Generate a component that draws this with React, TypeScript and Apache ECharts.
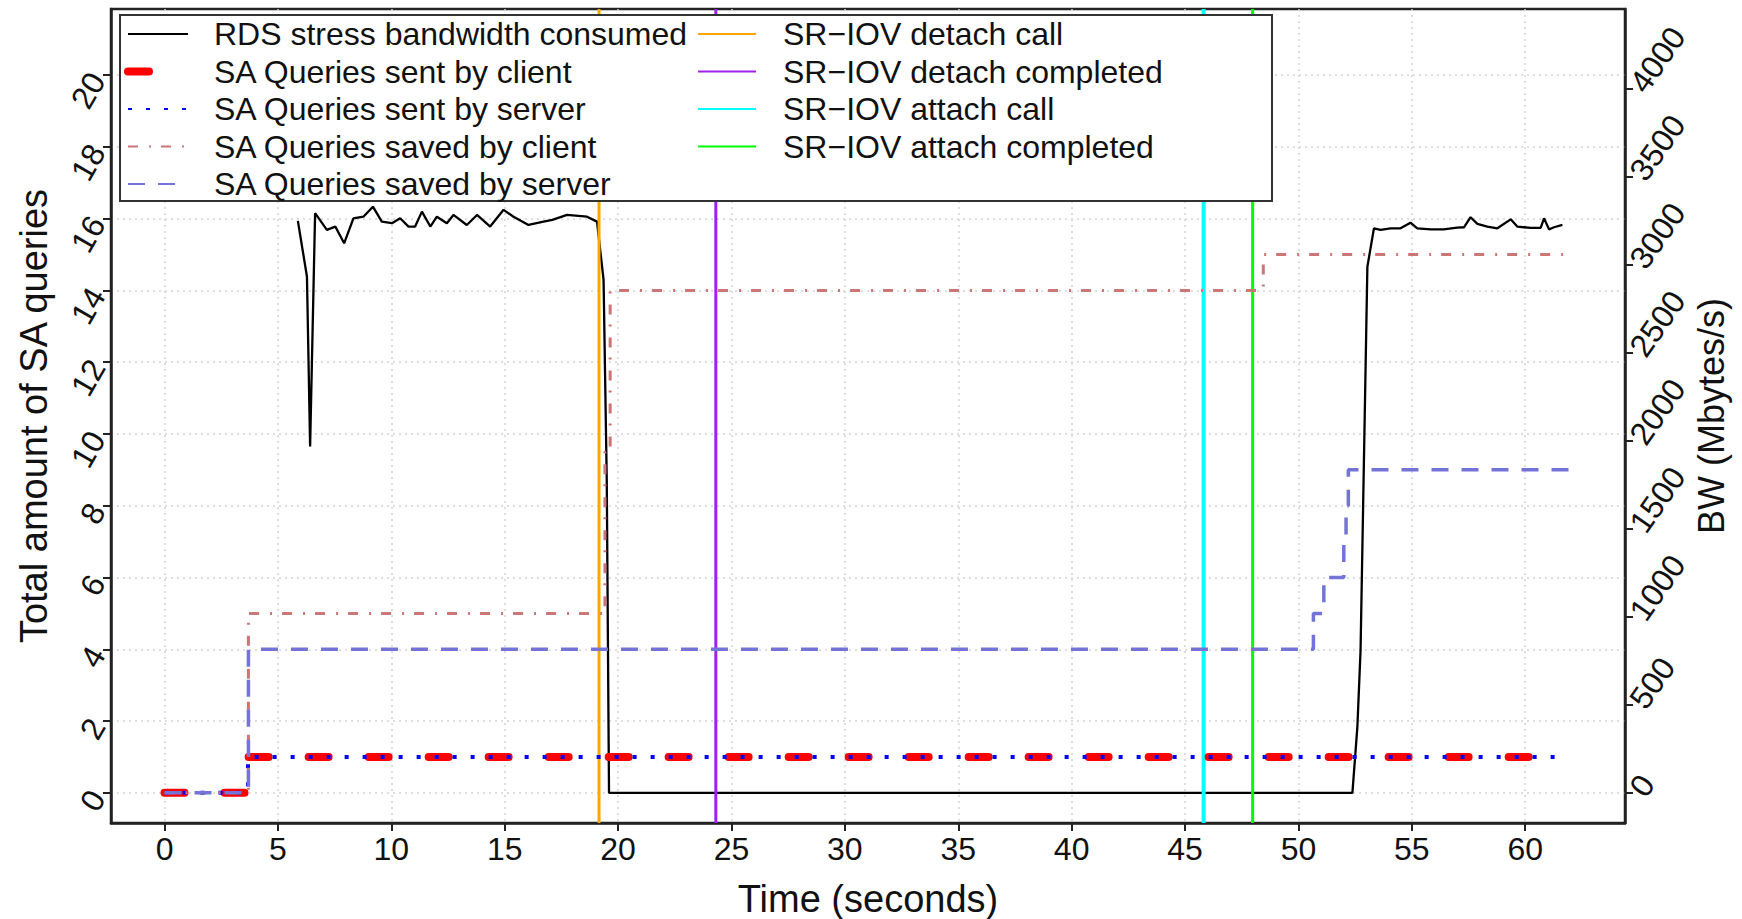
import React, { useEffect, useRef } from "react";
import * as echarts from "echarts";

// ---------- data ----------
const xTicks = [0, 5, 10, 15, 20, 25, 30, 35, 40, 45, 50, 55, 60];
const leftTicks = [0, 2, 4, 6, 8, 10, 12, 14, 16, 18, 20];
const rightTicks = [0, 500, 1000, 1500, 2000, 2500, 3000, 3500, 4000];

// RDS stress bandwidth (Mbytes/s), right axis
const bwTime = [
  5.88, 6.28, 6.42, 6.64, 7.16, 7.53, 7.92, 8.33, 8.77, 9.19, 9.58, 10.03, 10.39, 10.76, 11.05,
  11.35, 11.72, 12.01, 12.45, 12.74, 13.33, 13.78, 14.36, 14.95, 15.39, 16.05, 16.71, 17.1, 17.75,
  18.63, 19.07, 19.36, 19.5, 19.6, 52.38, 52.6, 52.74, 53.04, 53.33, 53.62, 54.06, 54.5, 54.94,
  55.24, 55.83, 56.4, 57.0, 57.3, 57.59, 57.89, 58.33, 58.77, 59.36, 59.65, 60.24, 60.68, 60.83,
  61.05, 61.27, 61.64,
];
const bwValue = [
  3250, 2934, 1968, 3294, 3199, 3218, 3123, 3265, 3274, 3331, 3246, 3237, 3265, 3218, 3218,
  3303, 3218, 3274, 3237, 3284, 3227, 3284, 3218, 3313, 3274, 3227, 3246, 3256, 3284,
  3274, 3246, 2915, 1780, 0, 0, 377, 812, 2990, 3208, 3199, 3208, 3208, 3240,
  3208, 3202, 3202, 3212, 3214, 3271, 3233, 3218, 3208, 3259, 3218, 3210, 3210, 3265,
  3202, 3214, 3227,
];

// SA queries (step changes), left axis
const sentTime = [0, 3.68, 61.6];
const sentClientValue = [0, 1, 1];
const sentServerValue = [0, 1, 1];
const savedClientTime = [0, 3.7, 19.42, 19.65, 48.45, 62.1];
const savedClientValue = [0, 5, 9.5, 14, 15, 15];
const savedServerTime = [0, 3.7, 50.66, 51.12, 52.0, 52.1, 52.2, 62.1];
const savedServerValue = [0, 4, 5, 6, 7, 8, 9, 9];

// SR-IOV events (seconds)
const eventNames = [
  "SR\u2212IOV detach call",
  "SR\u2212IOV detach completed",
  "SR\u2212IOV attach call",
  "SR\u2212IOV attach completed",
];
const eventTimes = [19.16, 24.31, 45.82, 47.98];

const LEFT_MIN = -0.84;
const LEFT_MAX = 21.84;
const RIGHT_MIN = -171.3;
const RIGHT_MAX = 4454.3;
const X_MIN = -2.36;
const X_MAX = 64.4;

const FONT = "Liberation Sans, Arial, Helvetica, sans-serif";

const zip = (a: number[], b: number[]) => a.map((v, i) => [v, b[i]]);

export default function App() {
  const ref = useRef<HTMLDivElement>(null);

  useEffect(() => {
    if (!ref.current) return;
    const chart = echarts.init(ref.current, undefined, { renderer: "svg" });

    const eventColors = ["#ffa500", "#a020f0", "#00ffff", "#00ff00"];
    const eventWidths = [3, 3, 4, 3];

    const seriesNames1 = [
      "RDS stress bandwidth consumed",
      "SA Queries sent by client",
      "SA Queries sent by server",
      "SA Queries saved by client",
      "SA Queries saved by server",
    ];

    const legendCommon = {
      orient: "vertical",
      top: 18,
      padding: 0,
      itemHeight: 14,
      itemGap: 5.5,
      selectedMode: false,
      itemStyle: { opacity: 0 },
      z: 5,
    };

    const option: any = {
      animation: false,
      backgroundColor: "#fff",
      textStyle: { fontFamily: FONT },
      grid: {
        left: 111,
        right: 117,
        top: 9,
        bottom: 96,
        show: true,
        borderColor: "#222",
        borderWidth: 2.5,
        backgroundColor: "transparent",
        outerBoundsMode: "none",
      },
      graphic: [
        {
          type: "rect",
          z: 3,
          shape: { x: 120, y: 15, width: 1152, height: 186 },
          style: { fill: "#fff", stroke: "#333", lineWidth: 2 },
        },
      ],
      legend: [
        {
          ...legendCommon,
          left: 124,
          itemWidth: 60,
          data: seriesNames1.map((n, i) =>
            i === 1
              ? { name: n, lineStyle: { width: 8, type: [21, 40], cap: "round", color: "#ff0000" } }
              : { name: n }
          ),
          textStyle: { fontSize: 32, lineHeight: 32, color: "#111", fontFamily: FONT, padding: [0, 0, 0, 21] },
        },
        {
          ...legendCommon,
          left: 697,
          itemWidth: 58,
          data: eventNames,
          textStyle: { fontSize: 32, lineHeight: 32, color: "#111", fontFamily: FONT, padding: [0, 0, 0, 22] },
        },
      ],
      xAxis: {
        type: "value",
        min: X_MIN,
        max: X_MAX,
        name: "Time (seconds)",
        nameLocation: "middle",
        nameGap: 57,
        nameMoveOverlap: false,
        nameTextStyle: { fontSize: 38, color: "#111", fontFamily: FONT },
        axisLine: { show: true, onZero: false, lineStyle: { color: "#222", width: 2.5 } },
        axisTick: { show: true, customValues: xTicks, length: 8, lineStyle: { color: "#222", width: 2 } },
        axisLabel: { customValues: xTicks, margin: 10, fontSize: 32, color: "#111", fontFamily: FONT },
        splitLine: { show: true, lineStyle: { color: "#d3d3d3", type: [2, 4], width: 1.5 } },
      },
      yAxis: [
        {
          type: "value",
          position: "left",
          min: LEFT_MIN,
          max: LEFT_MAX,
          name: "Total amount of SA queries",
          nameLocation: "middle",
          nameGap: 58,
          nameRotate: 90,
          nameMoveOverlap: false,
          nameTextStyle: { fontSize: 38, color: "#111", fontFamily: FONT },
          axisLine: { show: true, onZero: false, lineStyle: { color: "#222", width: 2.5 } },
          axisTick: { show: true, customValues: leftTicks, length: 8, lineStyle: { color: "#222", width: 2 } },
          axisLabel: {
            customValues: leftTicks,
            rotate: 60,
            align: "right",
            verticalAlign: "middle",
            margin: 14,
            fontSize: 32,
            color: "#111",
            fontFamily: FONT,
            formatter: (v: number) => String(v),
          },
          splitLine: { show: true, lineStyle: { color: "#d3d3d3", type: [2, 4], width: 1.5 } },
        },
        {
          type: "value",
          position: "right",
          min: RIGHT_MIN,
          max: RIGHT_MAX,
          name: "BW (Mbytes/s)",
          nameLocation: "middle",
          nameGap: 68,
          nameRotate: 90,
          nameMoveOverlap: false,
          nameTextStyle: { fontSize: 36, color: "#111", fontFamily: FONT },
          axisLine: { show: true, onZero: false, lineStyle: { color: "#222", width: 2.5 } },
          axisTick: { show: true, customValues: rightTicks, length: 8, lineStyle: { color: "#222", width: 2 } },
          axisLabel: {
            customValues: rightTicks,
            rotate: 55,
            align: "left",
            verticalAlign: "middle",
            margin: 12,
            fontSize: 32,
            color: "#111",
            fontFamily: FONT,
            formatter: (v: number) => String(v),
          },
          splitLine: { show: false },
        },
      ],
      series: [
        {
          name: seriesNames1[0],
          type: "line",
          yAxisIndex: 1,
          data: zip(bwTime, bwValue),
          symbol: "none",
          lineStyle: { color: "#000", width: 2.3 },
          itemStyle: { color: "#000" },
          z: 2,
        },
        {
          name: seriesNames1[1],
          type: "line",
          yAxisIndex: 0,
          step: "end",
          data: zip(sentTime, sentClientValue),
          symbol: "none",
          lineStyle: { color: "#ff0000", width: 8, type: [20, 40], cap: "round" },
          itemStyle: { color: "#ff0000" },
          z: 3,
        },
        {
          name: seriesNames1[2],
          type: "line",
          yAxisIndex: 0,
          step: "end",
          data: zip(sentTime, sentServerValue),
          symbol: "none",
          lineStyle: { color: "#0000ff", width: 4, type: [4, 14] },
          itemStyle: { color: "#0000ff" },
          z: 3,
        },
        {
          name: seriesNames1[3],
          type: "line",
          yAxisIndex: 0,
          step: "end",
          data: zip(savedClientTime, savedClientValue),
          symbol: "none",
          lineStyle: { color: "#cc7777", width: 3, type: [10, 11, 2, 10] },
          itemStyle: { color: "#cc7777" },
          z: 3,
        },
        {
          name: seriesNames1[4],
          type: "line",
          yAxisIndex: 0,
          step: "end",
          data: zip(savedServerTime, savedServerValue),
          symbol: "none",
          lineStyle: { color: "#7474d8", width: 3.5, type: [17, 13] },
          itemStyle: { color: "#7474d8" },
          z: 3,
        },
        ...eventNames.map((n, i) => ({
          name: n,
          type: "line",
          yAxisIndex: 0,
          data: [
            [eventTimes[i], LEFT_MIN],
            [eventTimes[i], LEFT_MAX],
          ],
          symbol: "none",
          lineStyle: { color: eventColors[i], width: eventWidths[i] },
          itemStyle: { color: eventColors[i] },
          z: 2,
        })),
      ],
    };

    chart.setOption(option);
    return () => chart.dispose();
  }, []);

  return (
    <div
      ref={ref}
      style={{ position: "absolute", left: 0, top: 0, width: 1742, height: 919, background: "#fff" }}
    />
  );
}
